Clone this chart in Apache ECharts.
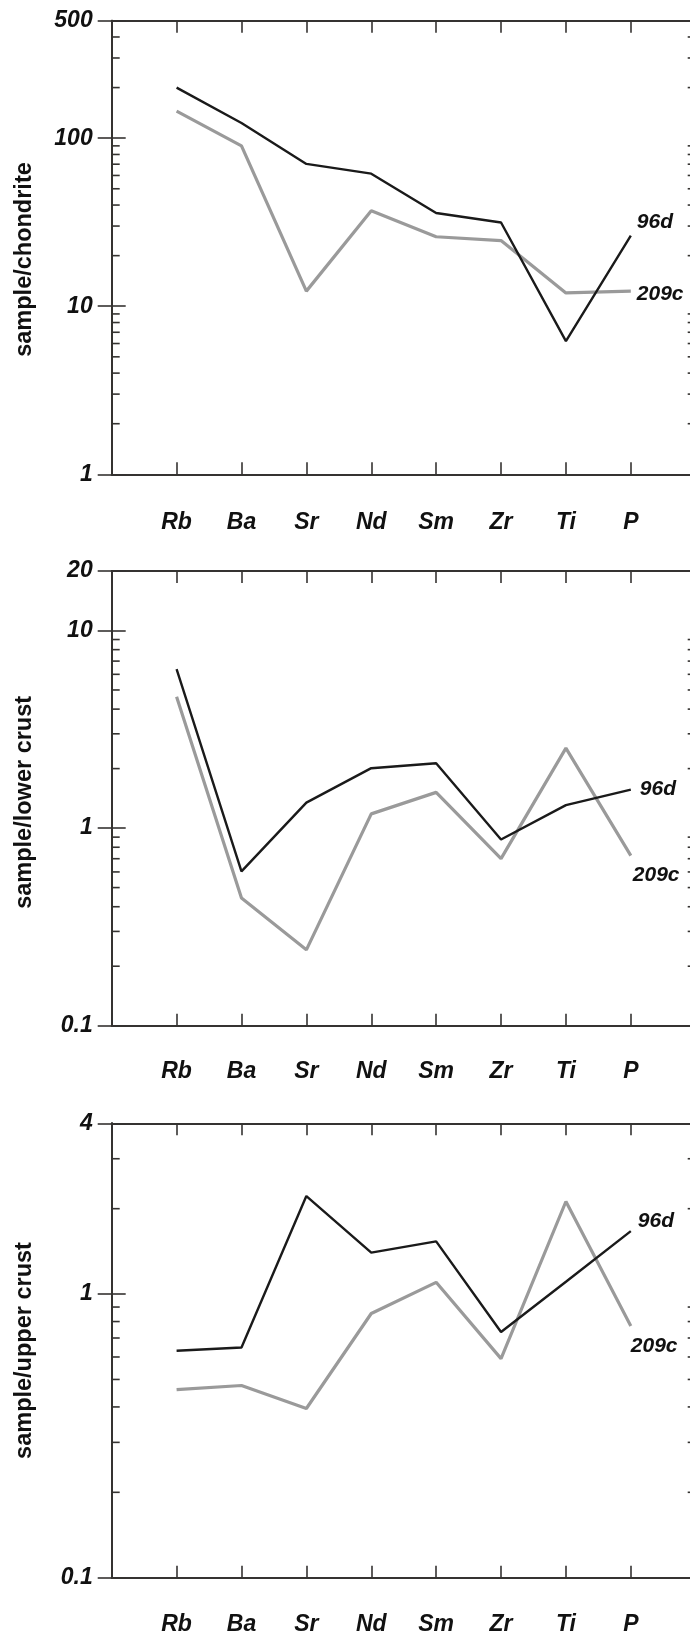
<!DOCTYPE html>
<html>
<head>
<meta charset="utf-8">
<title>Trace element patterns 96d / 209c</title>
<script src="https://cdn.jsdelivr.net/npm/echarts@6/dist/echarts.min.js"></script>
<style>
  html, body { margin: 0; padding: 0; background: #fff; }
  #chart { width: 690px; height: 1635px; }
</style>
</head>
<body>
<div id="chart"></div>
<script>
// Elements along the x axis
const elements = ['Rb', 'Ba', 'Sr', 'Nd', 'Sm', 'Zr', 'Ti', 'P'];

// Sample 96d and 209c, normalised to chondrite
const chondrite96d  = [200, 123, 70.3, 61.5, 35.9, 31.5, 6.2, 26.3];
const chondrite209c = [145, 90, 12.3, 37, 25.9, 24.6, 12.0, 12.3];

// Normalised to lower crust
const lowerCrust96d  = [6.38, 0.604, 1.345, 2.01, 2.13, 0.875, 1.306, 1.565];
const lowerCrust209c = [4.62, 0.443, 0.242, 1.18, 1.516, 0.701, 2.54, 0.725];

// Normalised to upper crust
const upperCrust96d  = [0.631, 0.648, 2.216, 1.40, 1.534, 0.735, 1.105, 1.667];
const upperCrust209c = [0.46, 0.476, 0.395, 0.854, 1.10, 0.592, 2.12, 0.772];

// Axis names and log ranges of each panel
const axisNames = ['sample/chondrite', 'sample/lower crust', 'sample/upper crust'];
const axisRanges = [[1, 500], [0.1, 20], [0.1, 4]];

const panels = [
  { name: axisNames[0], range: axisRanges[0], s96: chondrite96d,  s209: chondrite209c,
    top: 20.7, height: 453.6, lab96: [0, -13], lab209: [0, 3], dist96: 6, dist209: 6,
    labMargin: 38, namePad: [0, 24, 0, 0] },
  { name: axisNames[1], range: axisRanges[1], s96: lowerCrust96d, s209: lowerCrust209c,
    top: 571, height: 454.7, lab96: [0, 0], lab209: [0, 20], dist96: 9, dist209: 2,
    labMargin: 35, namePad: [0, 8, 0, 0] },
  { name: axisNames[2], range: axisRanges[2], s96: upperCrust96d, s209: upperCrust209c,
    top: 1123.3, height: 454.4, lab96: [0, -10], lab209: [0, 20], dist96: 7, dist209: 0,
    labMargin: 36, namePad: [0, 0, 0, 0] }
];

const FONT = '"Liberation Sans", Arial, Helvetica, sans-serif';
const AXIS_COLOR = '#353331';
const BLACK = '#1a1a1a';
const GREY = '#9a9a9a';

// minor log ticks (2..9 per decade) within a range
function minorTicks(range) {
  const out = [];
  const lo = Math.floor(Math.log10(range[0]));
  const hi = Math.ceil(Math.log10(range[1]));
  for (let e = lo; e < hi; e++) {
    for (let m = 2; m <= 9; m++) {
      const v = m * Math.pow(10, e);
      if (v > range[0] * 1.0001 && v < range[1] * 0.9999) out.push(v);
    }
  }
  return out;
}

function fmtLog(v) {
  return String(+Number(v).toPrecision(3));
}

const grid = [], xAxis = [], yAxis = [], series = [];

panels.forEach((p, i) => {
  grid.push({ left: 111.7, width: 584, top: p.top, height: p.height,
              containLabel: false, outerBoundsMode: 'none' });

  // bottom axis with element labels
  xAxis.push({
    type: 'value', gridIndex: i, min: 0, max: elements.length + 1, interval: 1,
    position: 'bottom',
    axisLine: { show: true, lineStyle: { color: AXIS_COLOR, width: 2 } },
    axisTick: { show: true, inside: true, length: 12, lineStyle: { color: AXIS_COLOR, width: 1.6 } },
    axisLabel: {
      show: true, margin: p.labMargin - 1,
      formatter: v => (v >= 1 && v <= elements.length ? elements[v - 1] : ''),
      fontFamily: FONT, fontSize: 23, fontWeight: 'bold', fontStyle: 'italic', color: '#111'
    },
    splitLine: { show: false }
  });
  // top frame with ticks
  xAxis.push({
    type: 'value', gridIndex: i, min: 0, max: elements.length + 1, interval: 1,
    position: 'top',
    axisLine: { show: true, lineStyle: { color: AXIS_COLOR, width: 2 } },
    axisTick: { show: true, inside: true, length: 12, lineStyle: { color: AXIS_COLOR, width: 1.6 } },
    axisLabel: { show: false },
    splitLine: { show: false }
  });

  // left log axis with labels
  yAxis.push({
    type: 'log', logBase: 10, gridIndex: i, min: p.range[0], max: p.range[1], interval: 1,
    position: 'left',
    name: p.name, nameLocation: 'middle', nameGap: 75,
    nameTextStyle: { fontFamily: FONT, fontSize: 23.5, fontWeight: 'bold', color: '#111',
                     padding: p.namePad },
    axisLine: { show: true, lineStyle: { color: AXIS_COLOR, width: 2 } },
    axisTick: { show: true, inside: true, length: 14, lineStyle: { color: AXIS_COLOR, width: 1.6 } },
    axisLabel: {
      show: true, margin: 19, formatter: fmtLog,
      fontFamily: FONT, fontSize: 23, fontWeight: 'bold', fontStyle: 'italic', color: '#111'
    },
    splitLine: { show: false }
  });
  // right frame with ticks
  yAxis.push({
    type: 'log', logBase: 10, gridIndex: i, min: p.range[0], max: p.range[1], interval: 1,
    position: 'right',
    axisLine: { show: true, lineStyle: { color: AXIS_COLOR, width: 2 } },
    axisTick: { show: true, inside: true, length: 14, lineStyle: { color: AXIS_COLOR, width: 1.6 } },
    axisLabel: { show: false },
    splitLine: { show: false }
  });

  const xIdx = i * 2, yIdx = i * 2;

  // minor ticks on both vertical frame lines
  series.push({
    type: 'custom', xAxisIndex: xIdx, yAxisIndex: yIdx, silent: true, clip: false, z: 3,
    data: minorTicks(p.range).map(v => [0, v]),
    encode: { x: 0, y: 1 },
    renderItem: (params, api) => {
      const v = api.value(1);
      const l = api.coord([0, v]);
      const r = api.coord([elements.length + 1, v]);
      const style = { stroke: AXIS_COLOR, lineWidth: 1.6 };
      return {
        type: 'group',
        children: [
          { type: 'line', shape: { x1: l[0], y1: l[1], x2: l[0] + 8, y2: l[1] }, style },
          { type: 'line', shape: { x1: r[0] - 8, y1: r[1], x2: r[0], y2: r[1] }, style }
        ]
      };
    }
  });

  const endLabel = (text, offset, dist) => ({
    show: true, formatter: text, distance: dist, offset: offset,
    fontFamily: FONT, fontSize: 21, fontWeight: 'bold', fontStyle: 'italic', color: '#111'
  });

  series.push({
    type: 'line', name: '209c', xAxisIndex: xIdx, yAxisIndex: yIdx,
    data: p.s209.map((v, k) => [k + 1, v]),
    symbol: 'none', showSymbol: false, clip: false, z: 4,
    lineStyle: { color: GREY, width: 3.2 },
    endLabel: endLabel('209c', p.lab209, p.dist209)
  });
  series.push({
    type: 'line', name: '96d', xAxisIndex: xIdx, yAxisIndex: yIdx,
    data: p.s96.map((v, k) => [k + 1, v]),
    symbol: 'none', showSymbol: false, clip: false, z: 5,
    lineStyle: { color: BLACK, width: 2.4 },
    endLabel: endLabel('96d', p.lab96, p.dist96)
  });
});

const chart = echarts.init(document.getElementById('chart'), null, { renderer: 'canvas' });
chart.setOption({
  backgroundColor: '#ffffff',
  animation: false,
  grid, xAxis, yAxis, series
});
</script>
</body>
</html>
